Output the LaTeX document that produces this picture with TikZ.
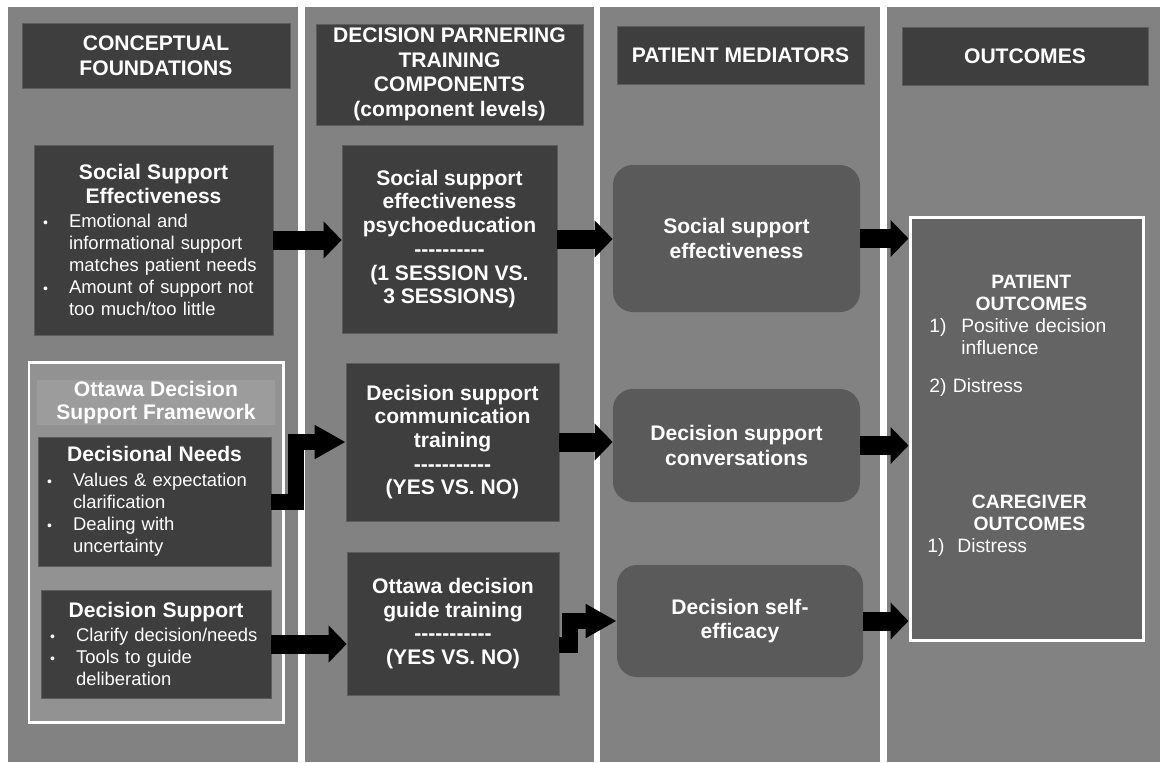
\documentclass[tikz,border=0pt]{standalone}
\usepackage{fontspec}
\setmainfont{Liberation Sans}[Ligatures=TeXOff]
\usepackage{enumitem}
\usetikzlibrary{arrows.meta}

\definecolor{panelgray}{RGB}{130,130,130}
\definecolor{darkbox}{RGB}{62,62,62}
\definecolor{boxedge}{RGB}{92,92,92}
\definecolor{medbox}{RGB}{90,90,90}
\definecolor{outbox}{RGB}{100,100,100}
\definecolor{framegray}{RGB}{146,146,146}
\definecolor{bandgray}{RGB}{156,156,156}

\setlist[itemize]{nosep, leftmargin=0.6cm, labelsep=0.42cm, label={\footnotesize\textbullet}}
\newcommand{\boxtitle}[1]{{\centering\bfseries\fontsize{12}{13.5}\selectfont #1\par}\vspace{1.5pt}}

\begin{document}
\begin{tikzpicture}[
        x=0.02cm, y=-0.02cm,
        font=\fontsize{10.5}{12.5}\selectfont,
        boxsize/.style 2 args={minimum width=#1*0.02cm, minimum height=#2*0.02cm},
        head box/.style={fill=darkbox, draw=boxedge, text=white, align=center, inner sep=0pt, font=\bfseries\fontsize{12}{14}\selectfont},
        list box/.style={fill=darkbox, draw=boxedge, text=white, align=left, inner xsep=0.1cm, inner ysep=0pt},
        comp box/.style={fill=darkbox, draw=boxedge, text=white, align=center, inner sep=0pt, font=\bfseries\fontsize{12}{13.5}\selectfont},
        med box/.style={fill=medbox, rounded corners=0.4cm, text=white, align=center, inner sep=0pt, font=\bfseries\fontsize{12}{14}\selectfont},
        out box/.style={fill=outbox, draw=white, line width=0.06cm},
        out text/.style={text=white, align=left, inner sep=0pt, text width=4.08cm, font=\fontsize{11}{12.5}\selectfont},
        frame box/.style={fill=framegray, draw=white, line width=0.06cm},
        band box/.style={fill=bandgray, text=white, align=center, inner sep=0pt, font=\bfseries\fontsize{12}{13.5}\selectfont},
        fat arrow/.style={line width=0.38cm, -{Triangle[length=0.36cm, width=0.72cm]}},
        bent arrow/.style={line width=0.32cm, line join=miter, -{Triangle[length=0.62cm, width=0.64cm]}},
    ]

    % page and the four column panels
    \useasboundingbox (0,0) rectangle (1163,762);
    \fill[white] (0,0) rectangle (1163,762);
    \foreach \xa/\xb in {8/298, 305/594, 600/880, 887/1160} {
        \fill[panelgray] (\xa,7) rectangle (\xb,762);
    }

    % column headers
    \node[head box, boxsize={268}{65}] (hfound) at (156,55.5) {CONCEPTUAL\\FOUNDATIONS};
    \node[head box, boxsize={267}{101}] (hcomp) at (449.5,74.5) {DECISION PARNERING\\TRAINING\\COMPONENTS\\(component levels)};
    \node[head box, boxsize={247}{58}] (hmed) at (740.5,55) {PATIENT MEDIATORS};
    \node[head box, boxsize={246}{58}] (hout) at (1025,56) {OUTCOMES};

    % conceptual foundations
    \node[list box, boxsize={239}{190}, text width=4.58cm] (sse) at (153.5,240) {%
        \boxtitle{Social Support\\Effectiveness}
        \begin{itemize}
            \item Emotional and\\informational support\\matches patient needs
            \item Amount of support not\\too much/too little
        \end{itemize}};

    \node[frame box, boxsize={254}{360}] (ottawa) at (156,542) {};
    \node[band box, boxsize={238}{45}] (odsf) at (156,402.5) {Ottawa Decision\\Support Framework};

    \node[list box, boxsize={233}{129}, text width=4.46cm] (dn) at (154.5,501.5) {%
        \boxtitle{Decisional Needs}
        \begin{itemize}
            \item Values \& expectation\\clarification
            \item Dealing with\\uncertainty
        \end{itemize}};

    \node[list box, boxsize={230}{108}, text width=4.4cm] (ds) at (156,644) {%
        \boxtitle{Decision Support}
        \begin{itemize}
            \item Clarify decision/needs
            \item Tools to guide\\deliberation
        \end{itemize}};

    % training components
    \node[comp box, boxsize={215}{188}] (c2a) at (449.5,239) {Social support\\effectiveness\\psychoeducation\\----------\\(1 SESSION VS.\\3 SESSIONS)};
    \node[comp box, boxsize={213}{158}] (c2b) at (452.5,442) {Decision support\\communication\\training\\-----------\\(YES VS. NO)};
    \node[comp box, boxsize={212}{143}] (c2c) at (453,623.5) {Ottawa decision\\guide training\\-----------\\(YES VS. NO)};

    % patient mediators
    \node[med box, boxsize={247}{147}] (m1) at (736.5,238.5) {Social support\\effectiveness};
    \node[med box, boxsize={247}{113}] (m2) at (736.5,445.5) {Decision support\\conversations};
    \node[med box, boxsize={246}{112}] (m3) at (740,621) {Decision self-\\efficacy};

    % outcomes
    \node[out box, boxsize={233}{423}] (out) at (1026.5,428.5) {};
    \node[out text, anchor=north west] (patout) at (929,275) {%
        {\centering\bfseries PATIENT\\OUTCOMES\par}
        \makebox[0.64cm][l]{1)}Positive decision\\
        \hspace*{0.64cm}influence\\[9pt]
        2) Distress};
    \node[out text, anchor=north west] (careout) at (927,495) {%
        {\centering\bfseries CAREGIVER\\OUTCOMES\par}
        \makebox[0.6cm][l]{1)}Distress};

    % arrows between the columns
    \draw[fat arrow] (sse.east) -- (sse.east -| c2a.west);
    \draw[fat arrow] (c2a.east) -- (c2a.east -| m1.west);
    \draw[fat arrow] (m1.east) -- (m1.east -| out.west);
    \draw[bent arrow] (dn.east) -- ++(25,0) |- (c2b.west);
    \draw[fat arrow] (ds.east) -- (ds.east -| c2c.west);
    \draw[fat arrow] (c2b.east) -- (c2b.east -| m2.west);
    \draw[fat arrow] (m2.east) -- (m2.east -| out.west);
    \draw[bent arrow] ([yshift=-0.42cm]c2c.east) -- ++(11,0) |- (m3.west);
    \draw[fat arrow] (m3.east) -- (m3.east -| out.west);

\end{tikzpicture}
\end{document}
